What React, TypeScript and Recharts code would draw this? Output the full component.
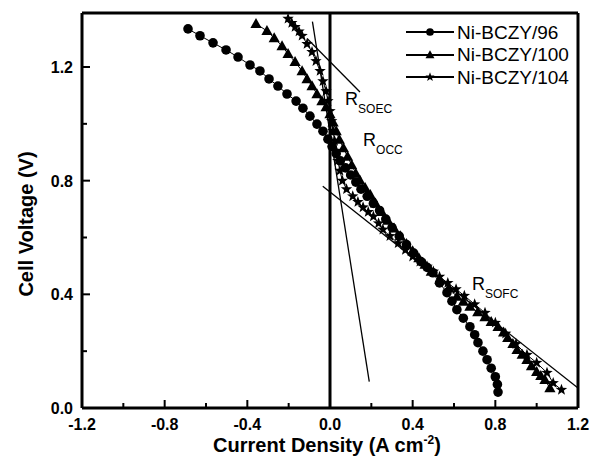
import {
  ScatterChart,
  Scatter,
  XAxis,
  YAxis,
  ReferenceLine,
  ReferenceDot,
  Legend,
} from "recharts";

const xTicks = [-1.2, -1.0, -0.8, -0.6, -0.4, -0.2, 0, 0.2, 0.4, 0.6, 0.8, 1.0, 1.2];
const xLabeled = [-1.2, -0.8, -0.4, 0, 0.4, 0.8, 1.2];
const yTicks = [0, 0.2, 0.4, 0.6, 0.8, 1.0, 1.2];
const yLabeled = [0, 0.4, 0.8, 1.2];
const xDomain = [-1.2, 1.2];
const yDomain = [0, 1.39];

// Ni-BCZY/96 (circles)
const bczy96 = [
  { x: -0.687, y: 1.334 }, { x: -0.629, y: 1.31 }, { x: -0.566, y: 1.285 }, { x: -0.503, y: 1.26 },
  { x: -0.445, y: 1.235 }, { x: -0.387, y: 1.207 }, { x: -0.339, y: 1.186 }, { x: -0.295, y: 1.158 },
  { x: -0.252, y: 1.133 }, { x: -0.208, y: 1.105 }, { x: -0.164, y: 1.08 }, { x: -0.131, y: 1.055 },
  { x: -0.097, y: 1.027 }, { x: -0.063, y: 0.999 }, { x: -0.034, y: 0.974 }, { x: -0.01, y: 0.946 },
  { x: 0.01, y: 0.92 }, { x: 0.03, y: 0.895 }, { x: 0.05, y: 0.87 }, { x: 0.075, y: 0.845 },
  { x: 0.1, y: 0.82 }, { x: 0.125, y: 0.795 }, { x: 0.15, y: 0.77 }, { x: 0.18, y: 0.745 },
  { x: 0.21, y: 0.72 }, { x: 0.24, y: 0.695 }, { x: 0.27, y: 0.665 }, { x: 0.3, y: 0.635 },
  { x: 0.335, y: 0.605 }, { x: 0.37, y: 0.575 }, { x: 0.405, y: 0.545 }, { x: 0.44, y: 0.515 },
  { x: 0.47, y: 0.495 }, { x: 0.498, y: 0.476 }, { x: 0.53, y: 0.44 }, { x: 0.566, y: 0.406 },
  { x: 0.59, y: 0.376 }, { x: 0.614, y: 0.346 }, { x: 0.645, y: 0.316 }, { x: 0.677, y: 0.286 },
  { x: 0.7, y: 0.258 }, { x: 0.716, y: 0.23 }, { x: 0.74, y: 0.2 }, { x: 0.76, y: 0.17 },
  { x: 0.78, y: 0.14 }, { x: 0.8, y: 0.11 }, { x: 0.81, y: 0.083 }, { x: 0.813, y: 0.056 },
];

// Ni-BCZY/100 (triangles)
const bczy100 = [
  { x: -0.358, y: 1.352 }, { x: -0.305, y: 1.327 }, { x: -0.27, y: 1.302 }, { x: -0.232, y: 1.274 },
  { x: -0.203, y: 1.246 }, { x: -0.169, y: 1.218 }, { x: -0.135, y: 1.186 }, { x: -0.111, y: 1.158 },
  { x: -0.087, y: 1.133 }, { x: -0.063, y: 1.105 }, { x: -0.039, y: 1.08 }, { x: -0.019, y: 1.059 },
  { x: 0, y: 1.034 }, { x: 0.015, y: 1.005 }, { x: 0.03, y: 0.975 }, { x: 0.045, y: 0.945 },
  { x: 0.065, y: 0.915 }, { x: 0.085, y: 0.885 }, { x: 0.105, y: 0.855 }, { x: 0.125, y: 0.825 },
  { x: 0.145, y: 0.8 }, { x: 0.17, y: 0.775 }, { x: 0.195, y: 0.75 }, { x: 0.22, y: 0.72 },
  { x: 0.25, y: 0.69 }, { x: 0.28, y: 0.66 }, { x: 0.31, y: 0.632 }, { x: 0.34, y: 0.605 },
  { x: 0.37, y: 0.578 }, { x: 0.4, y: 0.552 }, { x: 0.43, y: 0.528 }, { x: 0.46, y: 0.505 },
  { x: 0.49, y: 0.48 }, { x: 0.532, y: 0.452 }, { x: 0.575, y: 0.422 }, { x: 0.614, y: 0.392 },
  { x: 0.645, y: 0.375 }, { x: 0.677, y: 0.357 }, { x: 0.715, y: 0.338 }, { x: 0.75, y: 0.32 },
  { x: 0.78, y: 0.303 }, { x: 0.813, y: 0.286 }, { x: 0.84, y: 0.266 }, { x: 0.86, y: 0.247 },
  { x: 0.885, y: 0.226 }, { x: 0.905, y: 0.205 }, { x: 0.93, y: 0.188 }, { x: 0.953, y: 0.17 },
  { x: 0.975, y: 0.148 }, { x: 1.0, y: 0.127 }, { x: 1.02, y: 0.113 }, { x: 1.04, y: 0.099 },
  { x: 1.064, y: 0.07 },
];

// Ni-BCZY/104 (stars)
const bczy104 = [
  { x: -0.203, y: 1.37 }, { x: -0.185, y: 1.355 }, { x: -0.169, y: 1.341 }, { x: -0.15, y: 1.325 },
  { x: -0.135, y: 1.31 }, { x: -0.111, y: 1.281 }, { x: -0.087, y: 1.253 }, { x: -0.068, y: 1.221 },
  { x: -0.048, y: 1.186 }, { x: -0.034, y: 1.15 }, { x: -0.019, y: 1.115 }, { x: -0.01, y: 1.08 },
  { x: 0, y: 1.045 }, { x: 0.008, y: 1.01 }, { x: 0.015, y: 0.975 }, { x: 0.022, y: 0.94 },
  { x: 0.03, y: 0.905 }, { x: 0.038, y: 0.87 }, { x: 0.048, y: 0.835 }, { x: 0.06, y: 0.8 },
  { x: 0.08, y: 0.77 }, { x: 0.11, y: 0.745 }, { x: 0.135, y: 0.725 }, { x: 0.16, y: 0.706 },
  { x: 0.185, y: 0.69 }, { x: 0.21, y: 0.674 }, { x: 0.235, y: 0.65 }, { x: 0.256, y: 0.628 },
  { x: 0.29, y: 0.605 }, { x: 0.33, y: 0.58 }, { x: 0.365, y: 0.556 }, { x: 0.4, y: 0.533 },
  { x: 0.435, y: 0.515 }, { x: 0.47, y: 0.498 }, { x: 0.5, y: 0.48 }, { x: 0.53, y: 0.462 },
  { x: 0.57, y: 0.44 }, { x: 0.61, y: 0.418 }, { x: 0.65, y: 0.395 }, { x: 0.7, y: 0.365 },
  { x: 0.75, y: 0.335 }, { x: 0.8, y: 0.3 }, { x: 0.85, y: 0.262 }, { x: 0.9, y: 0.225 },
  { x: 0.953, y: 0.187 }, { x: 1.0, y: 0.159 }, { x: 1.05, y: 0.124 }, { x: 1.08, y: 0.088 },
  { x: 1.12, y: 0.064 },
];

// tangent lines
const soecLine = [{ x: -0.111, y: 1.3 }, { x: 0.145, y: 1.112 }];
const occLine = [{ x: -0.085, y: 1.36 }, { x: 0.19, y: 0.093 }];
const sofcLine = [{ x: -0.035, y: 0.78 }, { x: 1.2, y: 0.07 }];

const annotations = [
  { x: 0.073, y: 1.066, main: "R", sub: "SOEC" },
  { x: 0.16, y: 0.921, main: "R", sub: "OCC" },
  { x: 0.687, y: 0.417, main: "R", sub: "SOFC" },
];

const FONT = "'Liberation Sans', Arial, sans-serif";

const circleMark = (cx: number, cy: number, s = 1) => (
  <circle cx={cx} cy={cy} r={4.8 * s} fill="#000" />
);
const triangleMark = (cx: number, cy: number, s = 1) => (
  <polygon
    points={`${cx},${cy - 5.8 * s} ${cx + 5.6 * s},${cy + 4.2 * s} ${cx - 5.6 * s},${cy + 4.2 * s}`}
    fill="#000"
  />
);
const starMark = (cx: number, cy: number, s = 1) => {
  const pts: string[] = [];
  for (let i = 0; i < 10; i++) {
    const r = (i % 2 === 0 ? 6 : 2.5) * s;
    const a = -Math.PI / 2 + (i * Math.PI) / 5;
    pts.push(`${cx + r * Math.cos(a)},${cy + r * Math.sin(a)}`);
  }
  return <polygon points={pts.join(" ")} fill="#000" />;
};

const series = [
  { name: "Ni-BCZY/96", data: bczy96, mark: circleMark },
  { name: "Ni-BCZY/100", data: bczy100, mark: triangleMark },
  { name: "Ni-BCZY/104", data: bczy104, mark: starMark },
];

const isLabeled = (list: number[], v: number) => list.some((t) => Math.abs(t - v) < 1e-6);

const XTick = (props: any) => {
  const { x, y, payload } = props;
  const major = isLabeled(xLabeled, payload.value);
  return (
    <g>
      <line x1={x} x2={x} y1={y} y2={y - (major ? 8 : 5)} stroke="#000" strokeWidth={2} />
      {major && (
        <text x={x} y={y + 22} textAnchor="middle" fontSize={16} fontWeight="bold" fill="#000" fontFamily={FONT}>
          {payload.value.toFixed(1)}
        </text>
      )}
    </g>
  );
};

const YTick = (props: any) => {
  const { x, y, payload } = props;
  const major = isLabeled(yLabeled, payload.value);
  return (
    <g>
      <line x1={x} x2={x + (major ? 8 : 5)} y1={y} y2={y} stroke="#000" strokeWidth={2} />
      {major && (
        <text x={x - 9} y={y + 6} textAnchor="end" fontSize={16} fontWeight="bold" fill="#000" fontFamily={FONT}>
          {payload.value.toFixed(1)}
        </text>
      )}
    </g>
  );
};

const LegendBox = () => (
  <div style={{ fontFamily: FONT }}>
    {series.map((s) => (
      <div key={s.name} style={{ display: "flex", alignItems: "center", height: 22.5 }}>
        <svg width={50} height={16} style={{ display: "block" }}>
          <line x1={1} x2={49} y1={8} y2={8} stroke="#000" strokeWidth={2} />
          {s.mark(25, 8, 0.8)}
        </svg>
        <span style={{ fontSize: 19, lineHeight: 1, color: "#000", marginLeft: 2 }}>{s.name}</span>
      </div>
    ))}
  </div>
);

export default function App() {
  return (
    <div style={{ position: "absolute", left: 0, top: 0, background: "#fff" }}>
      <ScatterChart
        width={598}
        height={458}
        margin={{ top: 13, right: 20, bottom: 0, left: 0 }}
        style={{ fontFamily: FONT }}
      >
        <XAxis
          type="number"
          dataKey="x"
          domain={xDomain}
          ticks={xTicks}
          interval={0}
          height={50}
          tickSize={0}
          tickMargin={0}
          tickLine={false}
          tick={<XTick />}
          axisLine={{ stroke: "#000", strokeWidth: 3 }}
          allowDataOverflow
          label={{
            content: () => (
              <text x={327} y={452} textAnchor="middle" fontSize={20} fontWeight="bold" fill="#000" fontFamily={FONT}>
                Current Density (A cm
                <tspan dy={-8} fontSize={12}>-2</tspan>
                <tspan dy={8}>)</tspan>
              </text>
            ),
          }}
        />
        <YAxis
          type="number"
          dataKey="y"
          domain={yDomain}
          ticks={yTicks}
          interval={0}
          width={82}
          tickSize={0}
          tickMargin={0}
          tickLine={false}
          tick={<YTick />}
          axisLine={{ stroke: "#000", strokeWidth: 3 }}
          allowDataOverflow
          label={{
            content: () => (
              <text
                x={33}
                y={224}
                transform="rotate(-90, 33, 224)"
                textAnchor="middle"
                fontSize={20}
                fontWeight="bold"
                fill="#000"
                fontFamily={FONT}
              >
                Cell Voltage (V)
              </text>
            ),
          }}
        />
        <ReferenceLine y={yDomain[1]} stroke="#000" strokeWidth={3} />
        <ReferenceLine x={xDomain[1]} stroke="#000" strokeWidth={3} />
        <ReferenceLine x={0} stroke="#000" strokeWidth={3} />
        <ReferenceLine segment={soecLine} stroke="#000" strokeWidth={1.3} />
        <ReferenceLine segment={occLine} stroke="#000" strokeWidth={1.3} />
        <ReferenceLine segment={sofcLine} stroke="#000" strokeWidth={1.3} />
        {series.map((s) => (
          <Scatter
            key={s.name}
            name={s.name}
            data={s.data}
            line={{ stroke: "#000", strokeWidth: 1 }}
            lineType="joint"
            shape={(p: any) => s.mark(p.cx, p.cy)}
            isAnimationActive={false}
          />
        ))}
        {annotations.map((a) => (
          <ReferenceDot
            key={a.sub}
            x={a.x}
            y={a.y}
            r={0}
            stroke="none"
            fill="none"
            label={{
              content: (lp: any) => {
                const vb = lp.viewBox || {};
                const bx = (vb.x ?? 0) + (vb.width ?? 0) / 2;
                const by = (vb.y ?? 0) + (vb.height ?? 0) / 2;
                return (
                  <text x={bx} y={by} fontSize={18} fill="#000" fontFamily={FONT}>
                    {a.main}
                    <tspan dy={8} fontSize={12}>{a.sub}</tspan>
                  </text>
                );
              },
            }}
          />
        ))}
        <Legend
          layout="vertical"
          align="center"
          verticalAlign="middle"
          wrapperStyle={{ top: 21, left: 405, width: 180 }}
          content={() => <LegendBox />}
        />
      </ScatterChart>
    </div>
  );
}
